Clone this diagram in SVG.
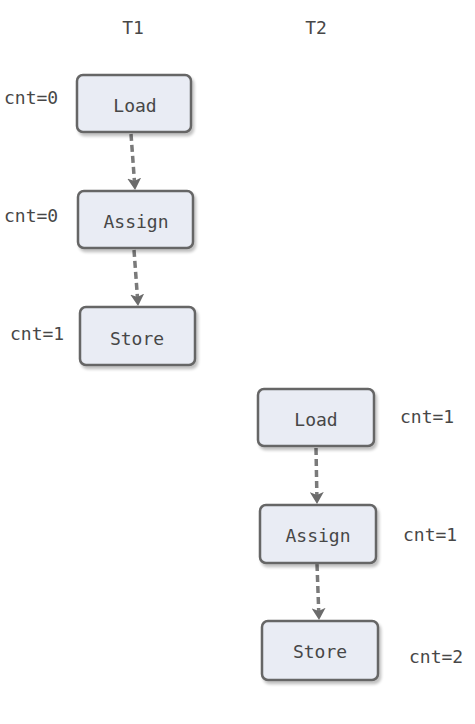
<svg xmlns="http://www.w3.org/2000/svg" width="475" height="724" viewBox="0 0 475 724">
<defs>
<marker id="ah" viewBox="0 0 12 14" refX="11" refY="7" markerWidth="12" markerHeight="14" markerUnits="userSpaceOnUse" orient="auto">
<path d="M0,0 L12,7 L0,14 L3,7 Z" fill="#6b6b6b"/>
</marker>
<filter id="sh" x="-10%" y="-10%" width="130%" height="140%">
<feGaussianBlur in="SourceAlpha" stdDeviation="1.5"/>
<feOffset dx="2" dy="3" result="b"/>
<feComponentTransfer><feFuncA type="linear" slope="0.25"/></feComponentTransfer>
<feMerge><feMergeNode/><feMergeNode in="SourceGraphic"/></feMerge>
</filter>
</defs>
<style>
.box{fill:#e9ecf4;stroke:#666;stroke-width:2.5}
.t{font-family:"DejaVu Sans Mono","Liberation Mono",monospace;font-size:18px;fill:#474747}
.c{text-anchor:middle}
.e{stroke:#7a7a7a;stroke-width:3.5;stroke-dasharray:7 4;fill:none}
</style>
<rect width="475" height="724" fill="#fff"/>
<text class="t c" x="133" y="34">T1</text>
<text class="t c" x="316" y="34">T2</text>
<text class="t" x="4" y="104">cnt=0</text>
<text class="t" x="4" y="222">cnt=0</text>
<text class="t" x="10" y="340">cnt=1</text>
<text class="t" x="400" y="423">cnt=1</text>
<text class="t" x="403" y="541">cnt=1</text>
<text class="t" x="409" y="663">cnt=2</text>
<g id="connectors">
<path class="e" d="M131,134 L135,189" marker-end="url(#ah)"/>
<path class="e" d="M134,250 L138,305" marker-end="url(#ah)"/>
<path class="e" d="M316,448 L317,503" marker-end="url(#ah)"/>
<path class="e" d="M317,564 L319,619" marker-end="url(#ah)"/>
</g>
<g id="t1-load"><rect class="box" x="77" y="75" width="114" height="57" rx="6" filter="url(#sh)"/><text class="t c" x="135" y="112">Load</text></g>
<g id="t1-assign"><rect class="box" x="78" y="191" width="115" height="57" rx="6" filter="url(#sh)"/><text class="t c" x="136" y="228">Assign</text></g>
<g id="t1-store"><rect class="box" x="80" y="307" width="115" height="58" rx="6" filter="url(#sh)"/><text class="t c" x="137" y="345">Store</text></g>
<g id="t2-load"><rect class="box" x="258" y="389" width="116" height="57" rx="6" filter="url(#sh)"/><text class="t c" x="316" y="426">Load</text></g>
<g id="t2-assign"><rect class="box" x="260" y="505" width="116" height="58" rx="6" filter="url(#sh)"/><text class="t c" x="318" y="542">Assign</text></g>
<g id="t2-store"><rect class="box" x="262" y="621" width="116" height="59" rx="6" filter="url(#sh)"/><text class="t c" x="320" y="658">Store</text></g>
</svg>
